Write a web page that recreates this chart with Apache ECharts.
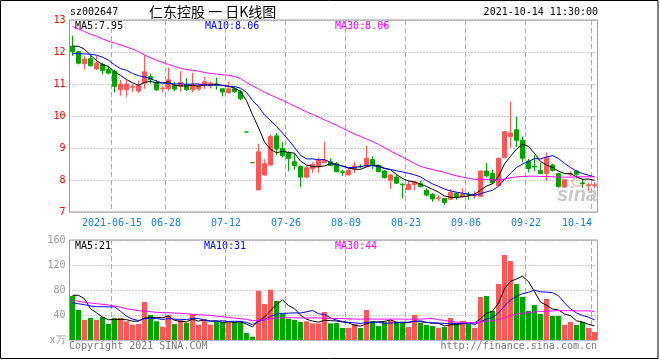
<!DOCTYPE html>
<html><head><meta charset="utf-8">
<script src="https://cdn.jsdelivr.net/npm/echarts@6.0.0/dist/echarts.min.js"></script>
<style>html,body{margin:0;padding:0;background:#fff}#c{width:660px;height:360px}</style>
</head><body><div id="c"></div>
<script>
const dates = [
'2021-06-03','2021-06-04','2021-06-07','2021-06-08','2021-06-09','2021-06-10','2021-06-11','2021-06-15','2021-06-16','2021-06-17',
'2021-06-18','2021-06-21','2021-06-22','2021-06-23','2021-06-24','2021-06-25','2021-06-28','2021-06-29','2021-06-30','2021-07-01',
'2021-07-02','2021-07-05','2021-07-06','2021-07-07','2021-07-08','2021-07-09','2021-07-12','2021-07-13','2021-07-14','2021-07-15',
'2021-07-16','2021-07-19','2021-07-20','2021-07-21','2021-07-22','2021-07-23','2021-07-26','2021-07-27','2021-07-28','2021-07-29',
'2021-07-30','2021-08-02','2021-08-03','2021-08-04','2021-08-05','2021-08-06','2021-08-09','2021-08-10','2021-08-11','2021-08-12',
'2021-08-13','2021-08-16','2021-08-17','2021-08-18','2021-08-19','2021-08-20','2021-08-23','2021-08-24','2021-08-25','2021-08-26',
'2021-08-27','2021-08-30','2021-08-31','2021-09-01','2021-09-02','2021-09-03','2021-09-06','2021-09-07','2021-09-08','2021-09-09',
'2021-09-10','2021-09-13','2021-09-14','2021-09-15','2021-09-16','2021-09-17','2021-09-22','2021-09-23','2021-09-24','2021-09-27',
'2021-09-28','2021-09-29','2021-09-30','2021-10-08','2021-10-11','2021-10-12','2021-10-13','2021-10-14'];

const openP = [12.18,12.01,11.64,11.79,11.47,11.61,11.45,11.4,10.82,10.82,10.9,10.78,11.03,11.23,11.05,10.85,10.86,10.95,10.93,10.99,
10.82,10.85,10.97,10.95,11.0,10.85,10.73,10.85,10.76,9.5,8.54,7.69,8.16,8.47,9.38,8.99,8.86,8.57,8.43,8.09,
8.36,8.43,8.55,8.57,8.51,8.26,8.16,8.34,8.43,8.43,8.64,8.45,8.28,7.99,8.09,7.87,7.7,7.86,7.88,7.68,
7.55,7.42,7.42,7.4,7.59,7.47,7.55,7.52,7.49,8.28,8.2,7.82,8.7,9.36,9.57,9.24,8.59,8.43,8.3,8.2,
8.47,8.2,7.78,8.18,8.28,7.91,7.83,7.83];
const closeP = [12.01,11.65,11.78,11.57,11.64,11.42,11.34,10.93,11.0,11.0,10.92,10.95,11.38,11.13,10.82,10.87,11.13,10.84,11.05,10.82,
10.98,10.95,11.07,11.03,10.95,10.75,10.85,10.76,10.54,9.5,8.54,8.88,8.51,9.36,8.97,8.76,8.68,8.45,8.09,8.38,
8.49,8.63,8.61,8.45,8.26,8.24,8.3,8.44,8.41,8.68,8.45,8.26,8.07,8.16,7.9,7.85,7.86,7.94,7.8,7.53,
7.41,7.44,7.3,7.61,7.47,7.57,7.53,7.55,8.28,8.13,7.91,8.68,9.51,9.47,9.24,8.68,8.36,8.41,8.2,8.7,
8.3,7.8,8.01,8.2,8.18,7.89,7.85,7.85];
const lowP = [11.88,11.61,11.45,11.55,11.44,11.3,11.3,10.74,10.64,10.6,10.74,10.72,10.85,11.01,10.78,10.74,10.79,10.78,10.76,10.78,
10.74,10.78,10.84,10.86,10.82,10.61,10.7,10.72,10.49,9.5,8.54,7.69,8.13,8.45,8.78,8.7,8.28,8.32,7.78,8.05,
8.22,8.22,8.53,8.43,8.24,8.12,8.14,8.22,8.36,8.41,8.34,8.24,8.05,7.72,7.88,7.43,7.68,7.68,7.76,7.49,
7.32,7.34,7.22,7.38,7.38,7.45,7.38,7.43,7.47,8.09,7.88,7.8,8.68,9.01,9.03,8.55,8.24,8.28,8.2,7.97,
8.26,7.76,7.76,8.12,8.07,7.76,7.66,7.74];
const highP = [12.51,12.02,11.86,11.9,11.88,11.67,11.57,11.45,11.13,11.13,11.01,11.11,11.9,11.33,11.13,10.93,11.51,11.07,11.4,11.18,
11.35,11.03,11.23,11.07,11.2,10.85,11.07,10.92,10.82,9.5,8.54,9.13,8.65,9.42,9.47,9.18,8.9,8.82,8.45,8.45,
8.55,8.7,9.2,8.68,8.57,8.32,8.36,8.57,8.49,9.07,8.74,8.49,8.32,8.18,8.2,7.89,7.99,7.95,7.97,7.74,
7.59,7.53,7.42,7.72,7.61,7.74,7.63,7.65,8.3,8.53,8.32,8.7,9.53,10.45,9.97,9.36,8.66,8.78,8.53,8.86,
8.51,8.22,8.01,8.26,8.3,8.03,7.91,7.93];

const ma5P = [12.18,12.18,12.09,11.9,11.73,11.61,11.55,11.38,11.27,11.14,11.04,10.96,11.05,11.08,11.04,11.03,11.07,10.96,10.94,10.94,
10.96,10.93,10.97,10.97,11.0,10.95,10.93,10.87,10.77,10.48,10.04,9.64,9.19,8.96,8.85,8.9,8.86,8.84,8.59,8.47,
8.42,8.41,8.44,8.51,8.49,8.44,8.37,8.34,8.33,8.41,8.46,8.45,8.37,8.32,8.17,8.05,7.97,7.94,7.87,7.8,
7.71,7.62,7.5,7.46,7.45,7.48,7.5,7.55,7.68,7.81,7.88,8.11,8.5,8.74,8.96,9.12,9.05,8.83,8.58,8.47,
8.39,8.28,8.2,8.2,8.1,8.02,8.03,7.99];
const ma10P = [11.95,11.95,11.94,11.93,11.9,11.84,11.74,11.6,11.48,11.43,11.33,11.26,11.22,11.17,11.09,11.03,11.01,11.0,11.01,10.99,
11.0,11.0,10.97,10.96,10.97,10.96,10.93,10.92,10.87,10.74,10.49,10.29,10.03,9.86,9.67,9.47,9.25,9.02,8.77,8.66,
8.66,8.63,8.64,8.55,8.48,8.43,8.39,8.39,8.42,8.45,8.45,8.41,8.36,8.33,8.29,8.25,8.21,8.16,8.1,7.98,
7.88,7.8,7.72,7.66,7.62,7.59,7.56,7.52,7.57,7.63,7.68,7.8,8.02,8.21,8.39,8.5,8.58,8.67,8.66,8.72,
8.76,8.67,8.52,8.39,8.28,8.2,8.15,8.1];
const ma30P = [12.8,12.72,12.64,12.55,12.49,12.41,12.34,12.28,12.22,12.16,12.09,12.01,11.91,11.82,11.74,11.68,11.61,11.55,11.49,11.45,
11.43,11.4,11.36,11.33,11.31,11.29,11.27,11.24,11.17,11.05,10.94,10.85,10.74,10.66,10.57,10.49,10.4,10.31,10.22,10.13,
10.05,9.97,9.88,9.79,9.71,9.62,9.52,9.44,9.36,9.28,9.2,9.11,9.01,8.91,8.81,8.72,8.62,8.52,8.43,8.37,
8.33,8.28,8.24,8.18,8.13,8.09,8.05,8.02,8.03,8.02,8.0,8.0,8.03,8.07,8.1,8.11,8.12,8.12,8.11,8.11,
8.1,8.09,8.09,8.09,8.1,8.1,8.1,8.1];

const volume = [70.4,48.0,32.0,35.2,32.0,36.8,25.6,35.2,35.2,29.9,24.5,25.6,60.8,40.0,30.0,21.3,40.0,25.6,32.0,27.7,
41.6,24.5,33.6,24.5,29.9,28.8,28.8,28.8,29.9,11.2,5.3,78.9,57.6,80.5,62.4,41.6,34.1,32.0,28.8,29.9,
26.7,26.7,44.8,26.7,27.2,19.2,19.2,25.6,19.2,48.0,30.4,22.4,28.8,32.0,28.8,28.8,20.8,40.0,27.2,24.0,
22.4,19.2,20.8,35.2,25.6,30.4,25.6,19.2,68.8,70.4,46.4,89.6,136.0,126.4,89.6,68.8,46.4,56.0,41.6,65.6,
38.4,38.4,24.0,28.8,24.0,28.8,19.2,12.8];
const ma5V = [71.5,71.5,66.0,50.0,43.5,36.8,32.3,33.0,33.0,32.5,30.1,30.1,35.2,36.2,36.2,35.5,38.4,31.4,29.8,29.3,
33.4,30.3,31.9,30.4,30.8,28.3,29.1,28.2,29.2,25.5,20.8,30.8,36.6,46.7,56.9,64.2,55.2,50.1,39.8,33.3,
30.3,28.8,31.4,31.0,30.4,28.9,27.4,23.6,22.1,26.2,28.5,29.1,29.8,32.3,28.5,28.2,27.8,30.1,29.1,28.2,
26.9,26.6,22.7,24.3,24.6,26.2,27.5,27.2,33.9,42.9,46.1,58.9,82.2,93.8,97.6,102.1,93.4,77.4,60.5,55.7,
49.6,48.0,41.6,39.0,30.7,28.8,25.0,22.7];
const ma10V = [59.7,58.0,56.5,54.4,53.3,53.3,53.0,53.0,46.0,38.0,33.4,31.2,34.1,34.6,34.4,32.8,34.3,33.3,33.0,32.8,
34.5,34.4,31.6,30.1,30.1,30.8,29.7,30.0,29.8,28.2,24.5,30.0,32.4,38.0,41.2,42.5,43.0,43.4,43.2,45.1,
47.3,42.0,40.8,35.4,31.9,29.6,28.1,27.5,26.5,28.3,28.7,28.3,26.7,27.2,27.4,28.3,28.5,29.9,30.7,28.3,
27.5,27.2,26.4,26.7,26.4,26.6,27.0,25.0,29.1,33.8,36.2,43.2,54.7,63.8,70.2,74.1,76.2,79.8,77.1,76.6,
75.8,70.7,59.5,49.8,43.2,39.2,36.5,32.2];
const ma30V = [63.5,61.9,60.3,59.2,58.1,57.1,56.0,54.4,52.3,50.1,48.5,46.9,45.9,45.3,44.3,43.7,43.7,43.2,42.7,42.1,
41.1,40.5,40.0,39.5,38.0,37.0,36.0,35.0,34.2,33.0,30.8,31.8,32.7,34.2,35.2,35.4,35.7,35.6,35.3,35.3,
35.4,35.5,34.9,34.5,34.4,34.3,33.6,33.6,33.2,33.9,33.5,33.4,33.3,33.5,33.5,33.5,33.2,33.6,33.5,33.9,
34.5,32.5,31.3,29.8,28.5,28.2,27.9,27.5,28.8,30.1,30.8,32.9,35.9,39.3,41.3,43.0,43.9,44.9,45.7,46.2,
46.5,47.0,46.9,46.8,46.6,46.6,46.6,45.7];

const tickDates = ['2021-06-15','2021-06-28','2021-07-12','2021-07-26','2021-08-09','2021-08-23','2021-09-06','2021-09-22','2021-10-14'];
const tickLabels = ['2021-06-15','06-28','07-12','07-26','08-09','08-23','09-06','09-22','10-14'];
const priceTicks = [7, 8, 9, 10, 11, 12, 13];
const volTicks = [0, 40, 80, 120, 160];

const RED = '#ff5757', GREEN = '#00a400';
const MONO = '"DejaVu Sans Mono", "Liberation Mono", monospace';

const candleData = dates.map((d, i) => [openP[i], closeP[i], lowP[i], highP[i]]);
const volData = volume.map((v, i) => {
  let up = closeP[i] > openP[i] || (closeP[i] === openP[i] && (i === 0 || closeP[i] >= closeP[i - 1]));
  return { value: v, itemStyle: { color: up ? RED : GREEN } };
});
const tickSet = new Set(tickDates);
const isTick = (idx) => tickSet.has(dates[idx]);

const chart = echarts.init(document.getElementById('c'), null, { renderer: 'canvas' });
const gridL = 69.5, gridW = 528;
const vSplit = { show: true, interval: (i) => isTick(i), lineStyle: { color: '#aaaaaa', width: 1, type: [5, 3] } };

chart.setOption({
  animation: false,
  backgroundColor: '#ffffff',
  grid: [
    { left: gridL, top: 20, width: gridW, height: 192, show: true, borderColor: '#999', borderWidth: 1 },
    { left: gridL, top: 240, width: gridW, height: 100, show: true, borderColor: '#999', borderWidth: 1 }
  ],
  xAxis: [
    { type: 'category', gridIndex: 0, data: dates, boundaryGap: true,
      axisLine: { show: false }, axisTick: { show: false }, splitLine: vSplit,
      axisLabel: { interval: (i) => isTick(i), color: '#1480d0', fontFamily: MONO, fontSize: 10, margin: 6,
        formatter: (v) => {
          const k = tickDates.indexOf(v);
          if (k < 0) return '';
          return k === tickDates.length - 1 ? '{r|' + tickLabels[k] + '}' : '{n|' + tickLabels[k] + '}';
        },
        rich: { n: { padding: [0, 5, 0, 0], fontFamily: MONO, fontSize: 10, color: '#1480d0' },
                r: { padding: [0, 35, 0, 0], fontFamily: MONO, fontSize: 10, color: '#1480d0' } } } },
    { type: 'category', gridIndex: 1, data: dates, boundaryGap: true,
      axisLine: { show: false }, axisTick: { show: false }, axisLabel: { show: false }, splitLine: vSplit }
  ],
  yAxis: [
    { type: 'value', gridIndex: 0, min: priceTicks[0], max: priceTicks[priceTicks.length - 1], interval: 1,
      axisLine: { show: false }, axisTick: { show: false },
      axisLabel: { color: '#ff0000', fontFamily: MONO, fontSize: 10, margin: 4 },
      splitLine: { lineStyle: { color: '#999', type: [1, 2] } } },
    { type: 'value', gridIndex: 1, min: volTicks[0], max: volTicks[volTicks.length - 1], interval: 40,
      axisLine: { show: false }, axisTick: { show: false },
      axisLabel: { color: '#999', fontFamily: MONO, fontSize: 10, margin: 4, formatter: (v) => v === 0 ? 'x万' : String(v) },
      splitLine: { lineStyle: { color: '#999', type: [1, 2] } } }
  ],
  series: [
    { type: 'candlestick', xAxisIndex: 0, yAxisIndex: 0, data: candleData, barWidth: 4,
      itemStyle: { color: RED, color0: GREEN, borderColor: RED, borderColor0: GREEN, borderWidth: 1 } },
    { type: 'line', xAxisIndex: 0, yAxisIndex: 0, data: ma5P, symbol: 'none', lineStyle: { color: '#000', width: 1 } },
    { type: 'line', xAxisIndex: 0, yAxisIndex: 0, data: ma10P, symbol: 'none', lineStyle: { color: '#0000ff', width: 1 } },
    { type: 'line', xAxisIndex: 0, yAxisIndex: 0, data: ma30P, symbol: 'none', lineStyle: { color: '#ff00ff', width: 1 } },
    { type: 'bar', xAxisIndex: 1, yAxisIndex: 1, data: volData, barWidth: 5 },
    { type: 'line', xAxisIndex: 1, yAxisIndex: 1, data: ma5V, symbol: 'none', lineStyle: { color: '#000', width: 1 } },
    { type: 'line', xAxisIndex: 1, yAxisIndex: 1, data: ma10V, symbol: 'none', lineStyle: { color: '#0000ff', width: 1 } },
    { type: 'line', xAxisIndex: 1, yAxisIndex: 1, data: ma30V, symbol: 'none', lineStyle: { color: '#ff00ff', width: 1 } }
  ],
  graphic: [
    { type: 'rect', shape: { x: 0.5, y: 0.5, width: 657.5, height: 358 }, style: { fill: 'none', stroke: '#000', lineWidth: 1 }, silent: true },
    { type: 'text', x: 70, y: 12, style: { text: 'sz002647', fill: '#000', font: '10px ' + MONO, verticalAlign: 'middle', textVerticalAlign: 'middle' } },
    { type: 'text', x: 149, y: 12, style: { text: '仁东控股 一 日K线图', fill: '#000', font: '14px "Noto Sans CJK SC"', verticalAlign: 'middle', textVerticalAlign: 'middle' } },
    { type: 'text', x: 598, y: 12, style: { text: '2021-10-14 11:30:00', fill: '#000', font: '10px ' + MONO, align: 'right', textAlign: 'right', verticalAlign: 'middle', textVerticalAlign: 'middle' } },
    { type: 'text', x: 75, y: 26, style: { text: 'MA5:7.95', fill: '#000', font: '10px ' + MONO, verticalAlign: 'middle', textVerticalAlign: 'middle' } },
    { type: 'text', x: 205, y: 26, style: { text: 'MA10:8.06', fill: '#0000ff', font: '10px ' + MONO, verticalAlign: 'middle', textVerticalAlign: 'middle' } },
    { type: 'text', x: 335, y: 26, style: { text: 'MA30:8.06', fill: '#ff00ff', font: '10px ' + MONO, verticalAlign: 'middle', textVerticalAlign: 'middle' } },
    { type: 'text', x: 75, y: 246.5, style: { text: 'MA5:21', fill: '#000', font: '10px ' + MONO, verticalAlign: 'middle', textVerticalAlign: 'middle' } },
    { type: 'text', x: 204, y: 246.5, style: { text: 'MA10:31', fill: '#0000ff', font: '10px ' + MONO, verticalAlign: 'middle', textVerticalAlign: 'middle' } },
    { type: 'text', x: 335, y: 246.5, style: { text: 'MA30:44', fill: '#ff00ff', font: '10px ' + MONO, verticalAlign: 'middle', textVerticalAlign: 'middle' } },
    { type: 'text', x: 69, y: 346, style: { text: 'Copyright 2021 SINA.COM', fill: '#777', font: '10px ' + MONO, verticalAlign: 'middle', textVerticalAlign: 'middle' } },
    { type: 'text', x: 597, y: 346, style: { text: 'http://finance.sina.com.cn', fill: '#777', font: '10px ' + MONO, align: 'right', textAlign: 'right', verticalAlign: 'middle', textVerticalAlign: 'middle' } },
    { type: 'ellipse', shape: { cx: 578, cy: 182, rx: 6, ry: 4 }, style: { fill: 'none', stroke: '#f4c4c4', lineWidth: 2 }, silent: true },
    { type: 'text', x: 597, y: 195, style: { text: 'sina', fill: '#c8c8c8', font: 'italic bold 20px "Liberation Sans", Arial', align: 'right', textAlign: 'right', verticalAlign: 'middle', textVerticalAlign: 'middle' } }
  ]
});
</script></body></html>
